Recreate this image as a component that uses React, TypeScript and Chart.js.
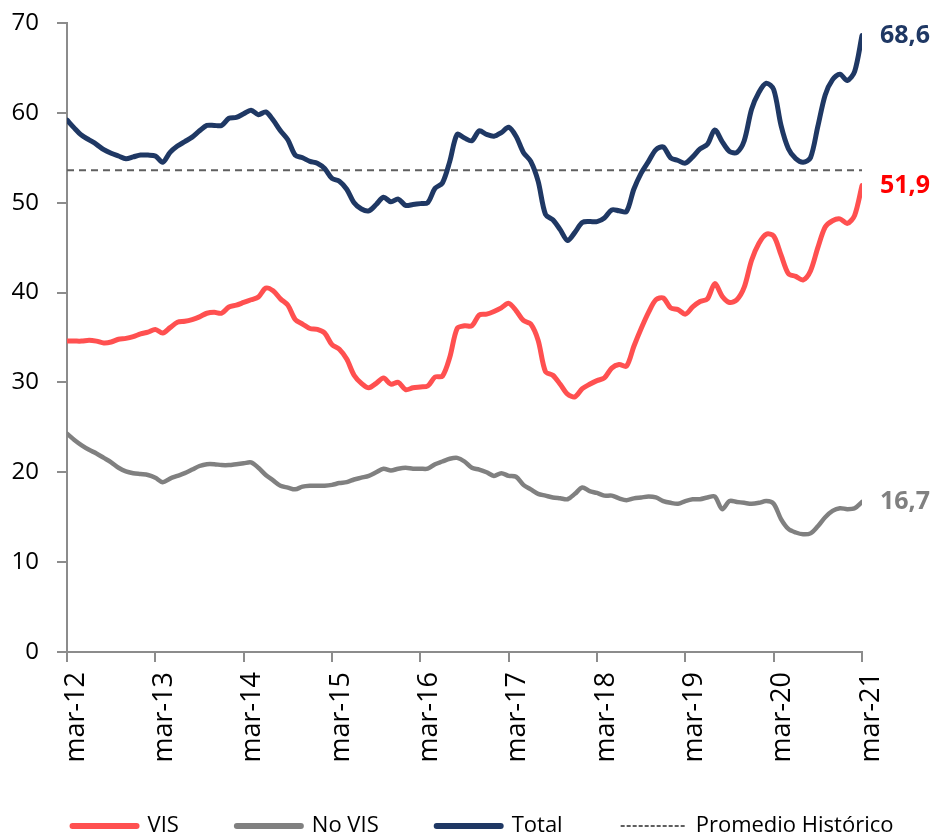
import React, { useEffect, useRef } from 'react';
import { Chart, registerables } from 'chart.js';

Chart.register(...registerables);

const TICK_LABELS = ['mar-12', 'mar-13', 'mar-14', 'mar-15', 'mar-16', 'mar-17', 'mar-18', 'mar-19', 'mar-20', 'mar-21'];

const VIS = [
  34.6, 34.6, 34.6, 34.7, 34.6, 34.4, 34.5, 34.8, 34.9, 35.1, 35.4, 35.6,
  35.9, 35.5, 36.1, 36.7, 36.8, 37.0, 37.3, 37.7, 37.8, 37.7, 38.4, 38.6,
  38.9, 39.2, 39.5, 40.5, 40.2, 39.3, 38.6, 37.0, 36.5, 36.0, 35.9, 35.5,
  34.2, 33.7, 32.6, 30.8, 29.9, 29.4, 29.9, 30.5, 29.8, 30.0, 29.2, 29.4,
  29.5, 29.6, 30.6, 30.7, 32.8, 36.0, 36.3, 36.3, 37.5, 37.6, 37.9, 38.3,
  38.8, 38.0, 36.9, 36.5, 34.7, 31.2, 30.8, 29.8, 28.7, 28.4, 29.3, 29.8,
  30.2, 30.5, 31.6, 32.0, 31.8, 34.0, 36.0, 37.8, 39.2, 39.4, 38.3, 38.1,
  37.6, 38.4, 39.0, 39.3, 41.0, 39.6, 38.9, 39.2, 40.6, 43.6, 45.5, 46.5,
  46.3, 44.2, 42.1, 41.8, 41.4, 42.4, 45.0, 47.3, 48.0, 48.2, 47.7, 48.6,
  51.9,
];

const NO_VIS = [
  24.3, 23.6, 23.0, 22.5, 22.1, 21.6, 21.1, 20.5, 20.1, 19.9, 19.8, 19.7,
  19.4, 18.9, 19.3, 19.6, 19.9, 20.3, 20.7, 20.9, 20.9, 20.8, 20.8, 20.9,
  21.0, 21.1, 20.5, 19.7, 19.1, 18.5, 18.3, 18.1, 18.4, 18.5, 18.5, 18.5,
  18.6, 18.8, 18.9, 19.2, 19.4, 19.6, 20.0, 20.4, 20.2, 20.4, 20.5, 20.4,
  20.4, 20.4, 20.9, 21.2, 21.5, 21.6, 21.2, 20.5, 20.3, 20.0, 19.6, 19.9,
  19.6, 19.5, 18.6, 18.1, 17.6, 17.4, 17.2, 17.1, 17.0, 17.6, 18.3, 17.9,
  17.7, 17.4, 17.4, 17.1, 16.9, 17.1, 17.2, 17.3, 17.2, 16.8, 16.6, 16.5,
  16.8, 17.0, 17.0, 17.2, 17.3, 15.9, 16.8, 16.7, 16.6, 16.5, 16.6, 16.8,
  16.5, 14.8, 13.7, 13.3, 13.1, 13.2, 14.0, 15.0, 15.7, 16.0, 15.9, 16.0,
  16.7,
];

const TOTAL = [
  59.2, 58.3, 57.5, 57.0, 56.5, 55.9, 55.5, 55.2, 54.9, 55.1, 55.3, 55.3,
  55.2, 54.5, 55.6, 56.3, 56.8, 57.3, 58.0, 58.6, 58.6, 58.6, 59.4, 59.5,
  59.9, 60.3, 59.8, 60.1, 59.2, 58.0, 57.0, 55.3, 55.0, 54.6, 54.4, 53.8,
  52.7, 52.4, 51.5, 50.0, 49.3, 49.1, 49.8, 50.6, 50.1, 50.4, 49.7, 49.8,
  49.9, 50.0, 51.6, 52.2, 54.6, 57.6, 57.2, 56.9, 58.0, 57.6, 57.4, 57.8,
  58.4, 57.4, 55.6, 54.6, 52.4, 48.7, 48.1, 47.0, 45.8, 46.7, 47.8, 47.9,
  47.9, 48.3, 49.2, 49.1, 49.0, 51.5, 53.3, 54.6, 55.9, 56.2, 55.0, 54.7,
  54.4, 55.1, 56.0, 56.5, 58.1, 56.8, 55.7, 55.6, 56.9, 60.4, 62.3, 63.3,
  62.6, 58.6, 56.0, 54.9, 54.5, 55.0, 58.5, 62.0, 63.7, 64.3, 63.6, 64.6,
  68.6,
];

const PROMEDIO = 53.6;
const SERIES_NAMES = ['VIS', 'No VIS', 'Total', 'Promedio Histórico'];
const LINE_COLORS = ['#FF5050', '#808080', '#1F3864', '#5F5F5F'];
const END_LABEL_COLORS = ['#FF0000', '#808080', '#1F3864'];

const FONT = '"Open Sans", sans-serif';

const toXY = (arr: number[]) => arr.map((y, x) => ({ x, y }));

const endLabels = {
  id: 'endLabels',
  afterDatasetsDraw(chart: any) {
    const ctx = chart.ctx;
    ctx.save();
    ctx.font = `bold 25px ${FONT}`;
    ctx.textBaseline = 'middle';
    ctx.textAlign = 'left';
    [0, 1, 2].forEach((i) => {
      const meta = chart.getDatasetMeta(i);
      const pt = meta.data[meta.data.length - 1];
      const ds = chart.data.datasets[i];
      const v = ds.data[ds.data.length - 1].y;
      ctx.fillStyle = END_LABEL_COLORS[i];
      ctx.fillText(v.toFixed(1).replace('.', ','), pt.x + 18, pt.y);
    });
    ctx.restore();
  },
};

const layoutTweaks = {
  id: 'layoutTweaks',
  afterLayout(chart: any) {
    if (chart.legend) {
      chart.legend.top += 8;
      chart.legend.bottom += 8;
      chart.legend.left += 14;
      chart.legend.right += 14;
    }
    const x = chart.scales.x;
    if (x) x.bottom = x.top + 130;
  },
};

export default function App() {
  const ref = useRef<HTMLCanvasElement | null>(null);

  useEffect(() => {
    if (!ref.current) return;
    Chart.defaults.font.family = FONT;
    const lastX = TOTAL.length - 1;
    const chart = new Chart(ref.current, {
      type: 'line',
      data: {
        datasets: [
          { label: SERIES_NAMES[0], data: toXY(VIS), borderColor: LINE_COLORS[0], borderWidth: 5 },
          { label: SERIES_NAMES[1], data: toXY(NO_VIS), borderColor: LINE_COLORS[1], borderWidth: 4.5 },
          { label: SERIES_NAMES[2], data: toXY(TOTAL), borderColor: LINE_COLORS[2], borderWidth: 5 },
          {
            label: SERIES_NAMES[3],
            data: [{ x: 0, y: PROMEDIO }, { x: lastX, y: PROMEDIO }],
            borderColor: LINE_COLORS[3],
            borderWidth: 2,
            borderDash: [7, 5],
            tension: 0,
            borderCapStyle: 'butt',
          },
        ],
      },
      options: {
        animation: false,
        responsive: true,
        maintainAspectRatio: false,
        layout: { padding: { top: 23, right: 0, left: 0, bottom: 0 } },
        elements: {
          point: { radius: 0, hoverRadius: 0 },
          line: { tension: 0.3, borderCapStyle: 'round', borderJoinStyle: 'round', fill: false },
        },
        plugins: {
          tooltip: { enabled: false },
          legend: {
            position: 'bottom',
            labels: {
              usePointStyle: true,
              pointStyleWidth: 64,
              boxWidth: 64,
              boxHeight: 6,
              padding: 58,
              color: '#000',
              font: { family: FONT, size: 22 },
              generateLabels: (chart: any) =>
                chart.data.datasets.map((ds: any, i: number) => ({
                  text: ds.label,
                  fillStyle: 'rgba(0,0,0,0)',
                  strokeStyle: ds.borderColor,
                  pointStyle: 'line',
                  lineWidth: i === 3 ? 2 : 6,
                  lineDash: i === 3 ? [4, 2] : [],
                  lineCap: i === 3 ? 'butt' : 'round',
                  lineJoin: 'round',
                  hidden: false,
                  datasetIndex: i,
                  fontColor: '#000',
                })),
            },
          },
        },
        scales: {
          x: {
            type: 'linear',
            min: 0,
            max: lastX,
            afterFit: (s: any) => {
              s.height = 97;
            },
            border: { display: true, color: '#8C8C8C', width: 2 },
            grid: { display: true, drawOnChartArea: false, drawTicks: true, tickLength: 10, color: '#8C8C8C', lineWidth: 2 },
            ticks: {
              stepSize: 12,
              autoSkip: false,
              maxRotation: 90,
              minRotation: 90,
              padding: 10,
              labelOffset: 9,
              color: '#000',
              font: { family: FONT, size: 27 },
              callback: (v: any) => TICK_LABELS[Math.round(Number(v) / 12)] ?? '',
            },
          },
          y: {
            min: 0,
            max: 70,
            afterFit: (s: any) => {
              s.width = 67;
              s.paddingTop = 0;
              s.paddingBottom = 0;
            },
            border: { display: true, color: '#8C8C8C', width: 2 },
            grid: { display: true, drawOnChartArea: false, drawTicks: true, tickLength: 10, color: '#8C8C8C', lineWidth: 2 },
            ticks: {
              stepSize: 10,
              padding: 18,
              color: '#000',
              font: { family: FONT, size: 24 },
            },
          },
          yRight: {
            position: 'right',
            min: 0,
            max: 70,
            display: true,
            grid: { display: false, drawTicks: false },
            border: { display: false },
            ticks: { display: false },
            afterFit: (s: any) => {
              s.width = 76;
              s.paddingTop = 0;
              s.paddingBottom = 0;
            },
          },
        },
      },
      plugins: [endLabels, layoutTweaks],
    } as any);
    return () => chart.destroy();
  }, []);

  return (
    <div style={{ position: 'fixed', left: 0, top: 0, width: 938, height: 839, background: '#fff' }}>
      <canvas ref={ref} />
    </div>
  );
}
